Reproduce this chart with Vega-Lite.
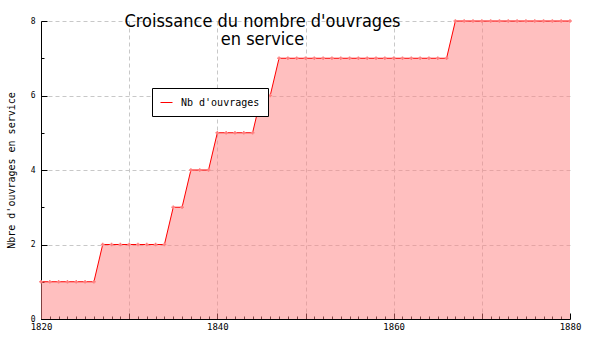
{
  "$schema": "https://vega.github.io/schema/vega-lite/v6.json",
  "width": 529,
  "height": 298,
  "autosize": {"type": "none"},
  "padding": {"left": 41, "top": 21, "right": 30, "bottom": 31},
  "background": "white",
  "title": {
    "text": ["Croissance du nombre d'ouvrages", "en service"],
    "font": "DejaVu Sans Condensed",
    "fontSize": 18,
    "fontWeight": "normal",
    "color": "#000000",
    "anchor": "middle",
    "baseline": "alphabetic",
    "lineHeight": 18,
    "dx": -43,
    "dy": 50
  },
  "config": {
    "view": {"stroke": null},
    "axis": {
      "domainColor": "#000000",
      "tickColor": "#000000",
      "labelFont": "DejaVu Sans Mono",
      "labelColor": "#000000",
      "titleFont": "DejaVu Sans Mono",
      "titleFontWeight": "normal",
      "titleColor": "#000000",
      "gridColor": "#c8c8c8",
      "gridDash": [4, 3],
      "gridWidth": 1
    }
  },
  "data": {
    "values": [
      {"annee": 1820, "nb": 1}, {"annee": 1821, "nb": 1}, {"annee": 1822, "nb": 1}, {"annee": 1823, "nb": 1},
      {"annee": 1824, "nb": 1}, {"annee": 1825, "nb": 1}, {"annee": 1826, "nb": 1},
      {"annee": 1827, "nb": 2}, {"annee": 1828, "nb": 2}, {"annee": 1829, "nb": 2}, {"annee": 1830, "nb": 2},
      {"annee": 1831, "nb": 2}, {"annee": 1832, "nb": 2}, {"annee": 1833, "nb": 2}, {"annee": 1834, "nb": 2},
      {"annee": 1835, "nb": 3}, {"annee": 1836, "nb": 3},
      {"annee": 1837, "nb": 4}, {"annee": 1838, "nb": 4}, {"annee": 1839, "nb": 4},
      {"annee": 1840, "nb": 5}, {"annee": 1841, "nb": 5}, {"annee": 1842, "nb": 5}, {"annee": 1843, "nb": 5}, {"annee": 1844, "nb": 5},
      {"annee": 1845, "nb": 6}, {"annee": 1846, "nb": 6},
      {"annee": 1847, "nb": 7}, {"annee": 1848, "nb": 7}, {"annee": 1849, "nb": 7}, {"annee": 1850, "nb": 7},
      {"annee": 1851, "nb": 7}, {"annee": 1852, "nb": 7}, {"annee": 1853, "nb": 7}, {"annee": 1854, "nb": 7},
      {"annee": 1855, "nb": 7}, {"annee": 1856, "nb": 7}, {"annee": 1857, "nb": 7}, {"annee": 1858, "nb": 7},
      {"annee": 1859, "nb": 7}, {"annee": 1860, "nb": 7}, {"annee": 1861, "nb": 7}, {"annee": 1862, "nb": 7},
      {"annee": 1863, "nb": 7}, {"annee": 1864, "nb": 7}, {"annee": 1865, "nb": 7}, {"annee": 1866, "nb": 7},
      {"annee": 1867, "nb": 8}, {"annee": 1868, "nb": 8}, {"annee": 1869, "nb": 8}, {"annee": 1870, "nb": 8},
      {"annee": 1871, "nb": 8}, {"annee": 1872, "nb": 8}, {"annee": 1873, "nb": 8}, {"annee": 1874, "nb": 8},
      {"annee": 1875, "nb": 8}, {"annee": 1876, "nb": 8}, {"annee": 1877, "nb": 8}, {"annee": 1878, "nb": 8},
      {"annee": 1879, "nb": 8}, {"annee": 1880, "nb": 8}
    ]
  },
  "encoding": {
    "x": {
      "field": "annee",
      "type": "quantitative",
      "scale": {"domain": [1820, 1880], "nice": false, "zero": false},
      "axis": {
        "title": null,
        "values": [1820,1821,1822,1823,1824,1825,1826,1827,1828,1829,1830,1831,1832,1833,1834,1835,1836,1837,1838,1839,1840,1841,1842,1843,1844,1845,1846,1847,1848,1849,1850,1851,1852,1853,1854,1855,1856,1857,1858,1859,1860,1861,1862,1863,1864,1865,1866,1867,1868,1869,1870,1871,1872,1873,1874,1875,1876,1877,1878,1879,1880],
        "format": "d",
        "labelExpr": "datum.value % 20 === 0 ? datum.label : ''",
        "labelFontSize": 9,
        "labelPadding": 9,
        "labelFlush": false,
        "labelOverlap": false,
        "tickSize": {"condition": {"test": "datum.value % 10 === 0", "value": -6}, "value": -3},
        "grid": true,
        "gridOpacity": {"condition": {"test": "datum.value % 10 === 0 && datum.value > 1820 && datum.value < 1880", "value": 1}, "value": 0}
      }
    },
    "y": {
      "field": "nb",
      "type": "quantitative",
      "scale": {"domain": [0, 8], "nice": false},
      "axis": {
        "title": "Nbre d'ouvrages en service",
        "titleFontSize": 10,
        "titlePadding": 14,
        "values": [0, 1, 2, 3, 4, 5, 6, 7, 8],
        "labelExpr": "datum.value % 2 === 0 ? datum.label : ''",
        "labelFontSize": 8,
        "labelPadding": 12,
        "labelOverlap": false,
        "tickSize": {"condition": {"test": "datum.value % 2 === 0", "value": -6}, "value": -3},
        "grid": true,
        "gridOpacity": {"condition": {"test": "datum.value % 2 === 0 && datum.value > 0", "value": 1}, "value": 0}
      }
    }
  },
  "layer": [
    {
      "mark": {"type": "area", "color": "#ff8080", "opacity": 0.5, "interpolate": "linear"},
      "encoding": {}
    },
    {
      "mark": {"type": "line", "strokeWidth": 1, "interpolate": "linear"},
      "encoding": {
        "color": {
          "datum": "Nb d'ouvrages",
          "type": "nominal",
          "scale": {"range": ["#ff0000"]},
          "legend": {
            "title": null,
            "orient": "none",
            "legendX": 111,
            "legendY": 67,
            "strokeColor": "#000000",
            "fillColor": "#ffffff",
            "padding": 8,
            "symbolType": "stroke",
            "symbolSize": 144,
            "symbolStrokeWidth": 1,
            "labelFont": "DejaVu Sans Mono",
            "labelFontSize": 10,
            "labelColor": "#000000",
            "labelOffset": 8
          }
        }
      }
    },
    {
      "mark": {"type": "point", "shape": "cross", "size": 14, "filled": true, "color": "#ff8080", "opacity": 1},
      "encoding": {}
    }
  ]
}
